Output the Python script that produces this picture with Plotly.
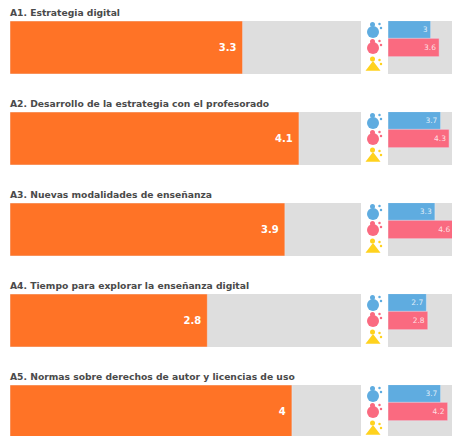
import plotly.graph_objects as go

W, H = 452, 436
titles = ["A1. Estrategia digital",
          "A2. Desarrollo de la estrategia con el profesorado",
          "A3. Nuevas modalidades de enseñanza",
          "A4. Tiempo para explorar la enseñanza digital",
          "A5. Normas sobre derechos de autor y licencias de uso"]
overall = [3.3, 4.1, 3.9, 2.8, 4]
men = [3, 3.7, 3.3, 2.7, 3.7]
women = [3.6, 4.3, 4.6, 2.8, 4.2]

ORANGE, GREY = "#FF7326", "#DEDEDE"
BLUE, PINK, YELLOW = "#5FACE0", "#FA6A80", "#FFD21E"
TOPS = [21, 112, 203, 294, 385]
PANEL_H = 53
LABEL_FONT = "DejaVu Sans"

fig = go.Figure()
shapes, annots, layout_axes = [], [], {}

for i, title in enumerate(titles):
    top = TOPS[i]
    bottom = min(top + PANEL_H, H)
    vis = (bottom - top) / PANEL_H
    dom = [1 - bottom / H, 1 - top / H]
    a, b, c = 3 * i + 1, 3 * i + 2, 3 * i + 3
    n = lambda k: "" if k == 1 else str(k)

    layout_axes[f"xaxis{n(a)}"] = dict(domain=[10 / W, 361 / W], range=[0, 4.98], visible=False, fixedrange=True)
    layout_axes[f"yaxis{n(a)}"] = dict(domain=dom, range=[vis - 0.5, -0.5], visible=False, fixedrange=True, anchor=f"x{n(a)}")
    layout_axes[f"xaxis{n(b)}"] = dict(domain=[388 / W, 1], range=[0, 4.5], visible=False, fixedrange=True)
    layout_axes[f"yaxis{n(b)}"] = dict(domain=dom, range=[3 * vis - 0.5, -0.5], visible=False, fixedrange=True, anchor=f"x{n(b)}")
    layout_axes[f"xaxis{n(c)}"] = dict(domain=[364 / W, 386 / W], range=[0, 22], visible=False, fixedrange=True)
    layout_axes[f"yaxis{n(c)}"] = dict(domain=dom, range=[bottom - top, 0], visible=False, fixedrange=True, anchor=f"x{n(c)}")

    for k in (a, b):
        shapes.append(dict(type="rect", xref=f"x{n(k)} domain", yref=f"y{n(k)} domain",
                           x0=0, x1=1, y0=0, y1=1, fillcolor=GREY, line_width=0, layer="below"))

    fig.add_trace(go.Bar(x=[overall[i]], y=[0], orientation="h", width=1, marker_color=ORANGE,
                         texttemplate="<b>%{x}</b>&nbsp;", textposition="inside", insidetextanchor="end",
                         textangle=0, constraintext="none",
                         textfont=dict(color="white", size=10, family=LABEL_FONT),
                         xaxis=f"x{n(a)}", yaxis=f"y{n(a)}", showlegend=False))
    for row, (val, col) in enumerate([(men[i], BLUE), (women[i], PINK)]):
        fig.add_trace(go.Bar(x=[val], y=[row], orientation="h", width=1.04, marker_color=col,
                             texttemplate="%{x}", textposition="inside", insidetextanchor="end",
                             textangle=0, constraintext="none",
                             textfont=dict(color="rgba(255,255,255,0.8)", size=7.5, family=LABEL_FONT),
                             xaxis=f"x{n(b)}", yaxis=f"y{n(b)}", showlegend=False))

    # small person icons: body, head, and the two dots beside them
    for col, sym, size, yb, yh, ya in [(BLUE, "circle", 12, 11, 3.5, 5),
                                       (PINK, "circle", 12, 27, 20.5, 22),
                                       (YELLOW, "triangle-up", 13, 46.5, 38, 41)]:
        fig.add_trace(go.Scatter(x=[9, 8.5, 15.5, 17], y=[yb, yh, ya - 2, ya + 2], mode="markers",
                                 marker=dict(color=col, symbol=[sym, "circle", "circle", "circle"],
                                             size=[size, 5, 2.5, 2.5], line_width=0, opacity=1),
                                 cliponaxis=False, hoverinfo="skip", showlegend=False,
                                 xaxis=f"x{n(c)}", yaxis=f"y{n(c)}"))

    annots.append(dict(text=f"<b>{title}</b>", xref="paper", yref="paper", x=8 / W, y=1 - (top - 1) / H,
                       xanchor="left", yanchor="bottom", showarrow=False, align="left",
                       font=dict(size=9.2, color="#4A4A4A", family=LABEL_FONT)))

fig.update_layout(width=W, height=H, margin=dict(l=0, r=0, t=0, b=0), autosize=False,
                  paper_bgcolor="white", plot_bgcolor="white", barmode="overlay",
                  shapes=shapes, annotations=annots, **layout_axes)
fig.write_html("out.html", config=dict(displayModeBar=False),
               post_script="document.body.style.margin='0';document.body.style.overflow='hidden';")
